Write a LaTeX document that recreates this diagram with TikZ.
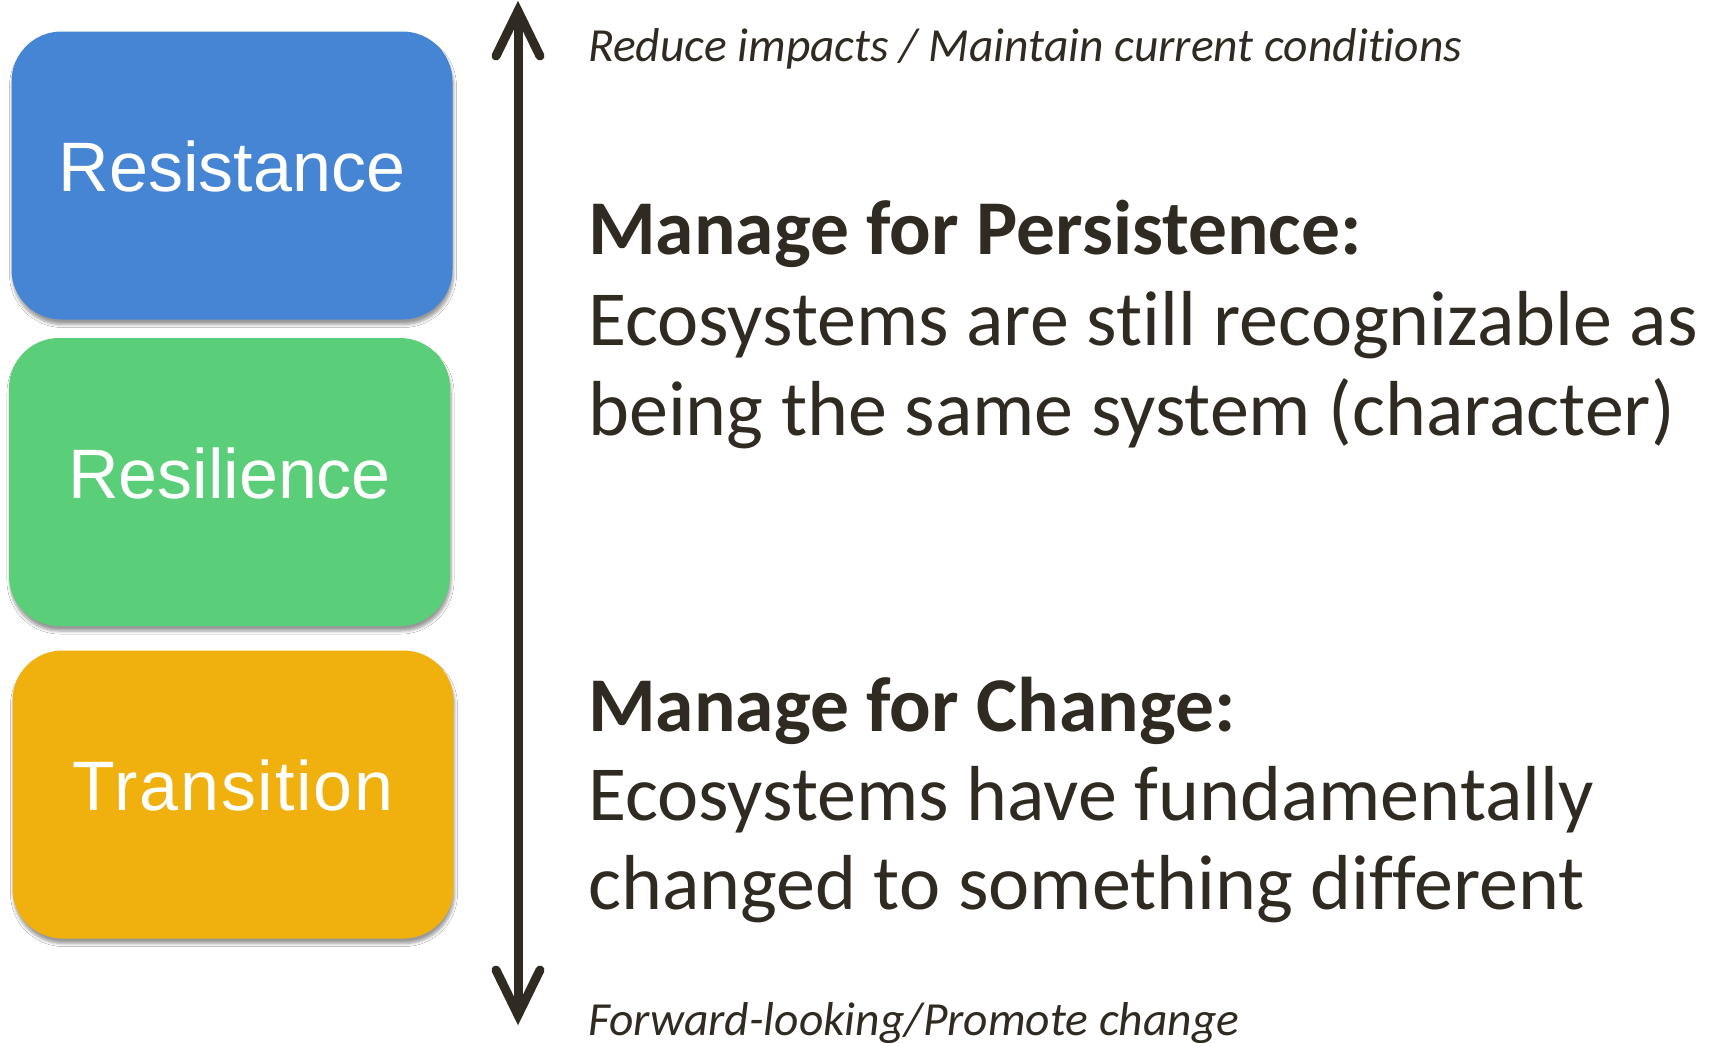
\documentclass[tikz,border=0pt]{standalone}
\usepackage{fontspec}
\setmainfont{Carlito}[Ligatures=NoCommon]
\newfontfamily\boxfont{Liberation Sans}
\newfontfamily\boxfontwide{Liberation Sans}[LetterSpace=2.5]
\usetikzlibrary{shadows.blur}
\definecolor{cblue}{HTML}{4684D4}
\definecolor{cgreen}{HTML}{5ACE78}
\definecolor{corange}{HTML}{F0B00E}
\definecolor{cdark}{HTML}{302B22}
\tikzset{
  catbox/.style={rounded corners=50pt, minimum width=441pt, minimum height=288pt,
    inner sep=0pt, text=white, font=\boxfont\fontsize{70}{84}\selectfont, text depth=18pt,
    blur shadow={shadow xshift=1pt, shadow yshift=-5pt, shadow blur steps=6, shadow blur radius=3pt, shadow opacity=40}},
  axisline/.style={draw=cdark, line width=9pt},
  barb/.style={draw=cdark, line width=9pt, line cap=round, line join=miter},
  smalltxt/.style={anchor=base west, inner sep=0pt, text=cdark, font=\fontsize{47.5}{57}\selectfont\itshape},
  headtxt/.style={anchor=base west, inner sep=0pt, text=cdark, font=\fontsize{77.5}{90}\selectfont\bfseries},
  bodytxt/.style={anchor=base west, inner sep=0pt, text=cdark, font=\fontsize{78}{90}\selectfont},
}
\begin{document}
\begin{tikzpicture}[x=1pt,y=-1pt]
\useasboundingbox (0,0) rectangle (1718,1042);
\fill[white] (0,0) rectangle (1718,1042);
\node[catbox, fill=cblue] (res) at (232,175.5) {Resistance};
\node[catbox, fill=cgreen] (resil) at (229.5,482) {Resilience};
\node[catbox, fill=corange, font=\boxfontwide\fontsize{70}{84}\selectfont] (trans) at (233,794.5) {Transition};
\coordinate (top) at (518,11);
\coordinate (bot) at (518,1015);
\draw[axisline] (top) -- (bot);
\draw[barb] ([xshift=-22pt,yshift=-45pt]top) -- (top) -- ([xshift=22pt,yshift=-45pt]top);
\draw[barb] ([xshift=-22pt,yshift=45pt]bot) -- (bot) -- ([xshift=22pt,yshift=45pt]bot);
\node[smalltxt] (t1) at (588,61) {Reduce impacts / Maintain current conditions};
\node[headtxt] (t2) at (588,254) {Manage for Persistence:};
\node[bodytxt] (t3) at (588,345) {Ecosystems are still recognizable as};
\node[bodytxt] (t4) at (588,435) {being the same system (character)};
\node[headtxt] (t5) at (588,731) {Manage for Change:};
\node[bodytxt] (t6) at (588,820) {Ecosystems have fundamentally};
\node[bodytxt] (t7) at (588,909) {changed to something different};
\node[smalltxt] (t8) at (588,1035) {Forward-looking/Promote change};
\end{tikzpicture}
\end{document}
